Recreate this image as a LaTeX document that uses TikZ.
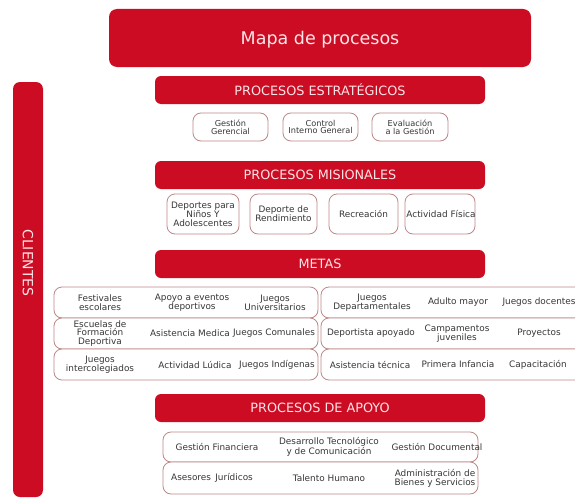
\documentclass[tikz,border=0pt]{standalone}
\usepackage{fontspec}
\setmainfont{DejaVu Sans}
\definecolor{rojo}{RGB}{204,12,35}
\definecolor{txtc}{RGB}{55,55,55}
\definecolor{brd}{RGB}{190,135,135}
\definecolor{pinkt}{RGB}{252,228,232}
\begin{document}
\begin{tikzpicture}[x=1pt,y=-1pt,
  bar/.style={fill=rojo, draw=none, rounded corners=6pt, inner sep=0pt},
  hdr/.style={text=pinkt, font=\fontsize{12.8}{14}\selectfont, inner sep=0pt},
  sbox/.style={draw=brd, line width=0.8pt, rounded corners=8pt, fill=white, inner sep=0pt},
  lbl/.style={text=txtc, align=center, font=\fontsize{8.9}{8.9}\selectfont, inner sep=0pt},
  slbl/.style={text=txtc, align=center, font=\fontsize{8.2}{7.6}\selectfont, inner sep=0pt},
]
\useasboundingbox (0,0) rectangle (575,503);
\fill[white] (0,0) rectangle (575,503);

% Title
\node[bar, rounded corners=8pt, minimum width=422, minimum height=58] (mapa) at (320,38) {};
\node[hdr, font=\fontsize{17.5}{20}\selectfont] (mapatxt) at (320,40) {Mapa de procesos};

% Clientes
\node[bar, rounded corners=7pt, minimum width=30, minimum height=415] (clientes) at (28,289.5) {};
\node[hdr, font=\fontsize{14}{16}\selectfont, rotate=-90] (clientestxt) at (28,263) {CLIENTES};

% Estrategicos
\node[bar, minimum width=330, minimum height=28] (estr) at (320,90) {};
\node[hdr] (estrtxt) at (320,90) {PROCESOS ESTRATÉGICOS};
\node[sbox, minimum width=75, minimum height=28] (gg) at (230.5,127) {};
\node[slbl] (ggt) at (230.5,127) {Gestión\\Gerencial};
\node[sbox, minimum width=75, minimum height=28] (cig) at (320.5,127) {};
\node[slbl] (cigt) at (320.5,127) {Control\\Interno General};
\node[sbox, minimum width=76, minimum height=28] (eg) at (410,127) {};
\node[slbl] (egt) at (410,127) {Evaluación\\a la Gestión};

% Misionales
\node[bar, minimum width=330, minimum height=28] (mis) at (320,175) {};
\node[hdr] (mistxt) at (320,175) {PROCESOS MISIONALES};
\node[sbox, minimum width=72, minimum height=40] (dna) at (203,214) {};
\node[lbl] (dnat) at (203,214) {Deportes para\\Niños Y\\Adolescentes};
\node[sbox, minimum width=67, minimum height=40] (dr) at (283.5,214) {};
\node[lbl] (drt) at (283.5,214) {Deporte de\\Rendimiento};
\node[sbox, minimum width=69, minimum height=40] (rec) at (363.5,214) {};
\node[lbl] (rect) at (363.5,214) {Recreación};
\node[sbox, minimum width=70, minimum height=40] (af) at (440,214) {};
\node[lbl] (aft) at (441,214) {Actividad Física};

% Metas
\node[bar, minimum width=330, minimum height=28] (metas) at (320,264) {};
\node[hdr] (metastxt) at (320,264) {METAS};

\node[sbox, minimum width=264, minimum height=31] (l1) at (186,302.5) {};
\node[sbox, minimum width=264, minimum height=31] (l2) at (186,333.5) {};
\node[sbox, minimum width=264, minimum height=31] (l3) at (186,364.5) {};
\node[sbox, minimum width=280, minimum height=31] (r1) at (461,302.5) {};
\node[sbox, minimum width=280, minimum height=31] (r2) at (461,333.5) {};
\node[sbox, minimum width=280, minimum height=31] (r3) at (461,364.5) {};

\node[lbl] (m11) at (100,302.5) {Festivales\\escolares};
\node[lbl] (m12) at (192,302.5) {Apoyo a eventos\\deportivos};
\node[lbl] (m13) at (275,302.5) {Juegos\\Universitarios};
\node[lbl] (m21) at (100,333.5) {Escuelas de\\Formación\\Deportiva};
\node[lbl] (m22) at (190,333.5) {Asistencia Medica};
\node[lbl] (m23) at (274,333.5) {Juegos Comunales};
\node[lbl] (m31) at (100,364.5) {Juegos\\intercolegiados};
\node[lbl] (m32) at (195,364.5) {Actividad Lúdica};
\node[lbl] (m33) at (277,364.5) {Juegos Indígenas};

\node[lbl] (n11) at (372,302.5) {Juegos\\Departamentales};
\node[lbl] (n12) at (458,302.5) {Adulto mayor};
\node[lbl] (n13) at (539,302.5) {Juegos docentes};
\node[lbl] (n21) at (371,333.5) {Deportista apoyado};
\node[lbl] (n22) at (457,333.5) {Campamentos\\juveniles};
\node[lbl] (n23) at (539,333.5) {Proyectos};
\node[lbl] (n31) at (370,364.5) {Asistencia técnica};
\node[lbl] (n32) at (458,364.5) {Primera Infancia};
\node[lbl] (n33) at (538,364.5) {Capacitación};

% Apoyo
\node[bar, minimum width=330, minimum height=28] (apoyo) at (320,408) {};
\node[hdr] (apoyotxt) at (320,408) {PROCESOS DE APOYO};
\node[sbox, minimum width=315, minimum height=30] (a1) at (320.5,447) {};
\node[sbox, minimum width=315, minimum height=32] (a2) at (320.5,478) {};
\node[lbl] (a11) at (217,447) {Gestión Financiera};
\node[lbl] (a12) at (329,447) {Desarrollo Tecnológico\\y de Comunicación};
\node[lbl] (a13) at (437,447) {Gestión Documental};
\node[lbl] (a21) at (212,478) {Asesores\, Jurídicos};
\node[lbl] (a22) at (329,478) {Talento Humano};
\node[lbl] (a23) at (435,478) {Administración de\\Bienes y Servicios};
\end{tikzpicture}
\end{document}
